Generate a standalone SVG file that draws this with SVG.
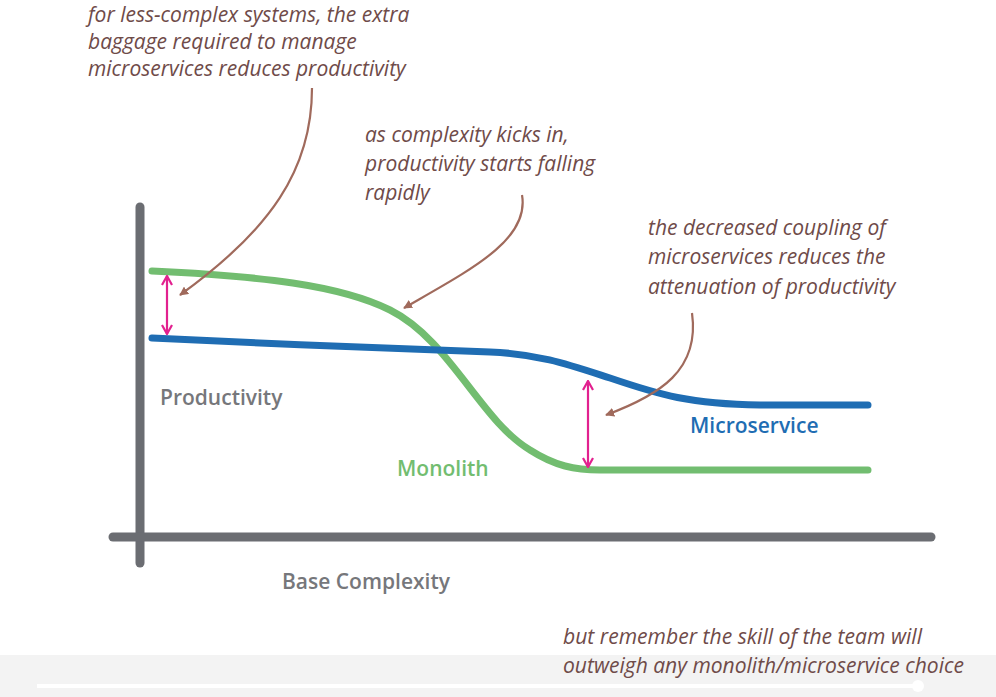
<svg xmlns="http://www.w3.org/2000/svg" width="996" height="697" viewBox="0 0 996 697">
<defs>
<style>
.note{font-family:"Open Sans","Liberation Sans",sans-serif;font-style:italic;font-size:21px;fill:#6f4b49}
.lbl{font-family:"Open Sans","Liberation Sans",sans-serif;font-weight:600;font-size:21px}
.axis{stroke:#6b6d72;stroke-width:9;stroke-linecap:round;fill:none}
.curve{stroke-width:7;stroke-linecap:round;fill:none}
.pt{stroke:#a06a5c;stroke-width:2.2;fill:none;marker-end:url(#bh)}
.gap{stroke:#e2218f;stroke-width:2.2;fill:none;marker-start:url(#mh);marker-end:url(#mh)}
</style>
<marker id="bh" viewBox="0 0 10 10" refX="9" refY="5" markerWidth="9" markerHeight="9" orient="auto" markerUnits="userSpaceOnUse">
<path d="M0,0 L10,5 L0,10 Z" fill="#a06a5c"/>
</marker>
<marker id="mh" viewBox="0 0 12 12" refX="11" refY="6" markerWidth="12" markerHeight="12" orient="auto-start-reverse" markerUnits="userSpaceOnUse">
<path d="M2,1 L11,6 L2,11" fill="none" stroke="#e2218f" stroke-width="2.2"/>
</marker>
</defs>
<rect width="996" height="697" fill="#ffffff"/>

<g id="axes">
<line class="axis" x1="140" y1="207" x2="140" y2="563"/>
<line class="axis" x1="113" y1="537" x2="931" y2="537"/>
</g>

<g id="monolith-curve">
<path class="curve" stroke="#72bd70" d="M152,271 C260,276 340,285 390,310 C450,340 480,420 530,450 C555,466 575,470 600,470 L868,470"/>
</g>
<g id="microservice-curve">
<path class="curve" stroke="#1f6db3" d="M152,338 C250,343 420,350 490,352 C540,354 570,365 610,378 C660,395 690,404 760,405 L868,405"/>
</g>

<g id="connectors">
<path class="gap" d="M167,276 L167,334"/>
<path class="gap" d="M588,381 L588,467"/>
<path class="pt" d="M312,88 C312,170 270,230 180,295"/>
<path class="pt" d="M522,195 C530,240 470,270 404,308"/>
<path class="pt" d="M692,313 C700,370 660,395 606,415"/>
</g>

<g id="note-baggage">
<text class="note" x="88" y="22">for less-complex systems, the extra</text>
<text class="note" x="88" y="49">baggage required to manage</text>
<text class="note" x="88" y="76">microservices reduces productivity</text>
</g>
<g id="note-complexity">
<text class="note" x="365" y="142">as complexity kicks in,</text>
<text class="note" x="365" y="171">productivity starts falling</text>
<text class="note" x="365" y="200">rapidly</text>
</g>
<g id="note-coupling">
<text class="note" x="648" y="235">the decreased coupling of</text>
<text class="note" x="648" y="264">microservices reduces the</text>
<text class="note" x="648" y="294">attenuation of productivity</text>
</g>

<g id="label-productivity"><text class="lbl" x="160" y="405" fill="#76777b">Productivity</text></g>
<g id="label-monolith"><text class="lbl" x="397" y="476" fill="#72bd70">Monolith</text></g>
<g id="label-microservice"><text class="lbl" x="690" y="433" fill="#1f6db3">Microservice</text></g>
<g id="label-base"><text class="lbl" x="282" y="589" fill="#76777b">Base Complexity</text></g>

<g id="player-bar">
<rect x="0" y="655" width="996" height="42" fill="#f3f3f3"/>
<line x1="37" y1="686" x2="918" y2="686" stroke="#ffffff" stroke-width="4"/>
<circle cx="918" cy="686" r="6" fill="#ffffff"/>
</g>

<g id="note-skill">
<text class="note" x="563" y="644" textLength="359" lengthAdjust="spacingAndGlyphs">but remember the skill of the team will</text>
<text class="note" x="563" y="673" textLength="401" lengthAdjust="spacingAndGlyphs">outweigh any monolith/microservice choice</text>
</g>
</svg>
